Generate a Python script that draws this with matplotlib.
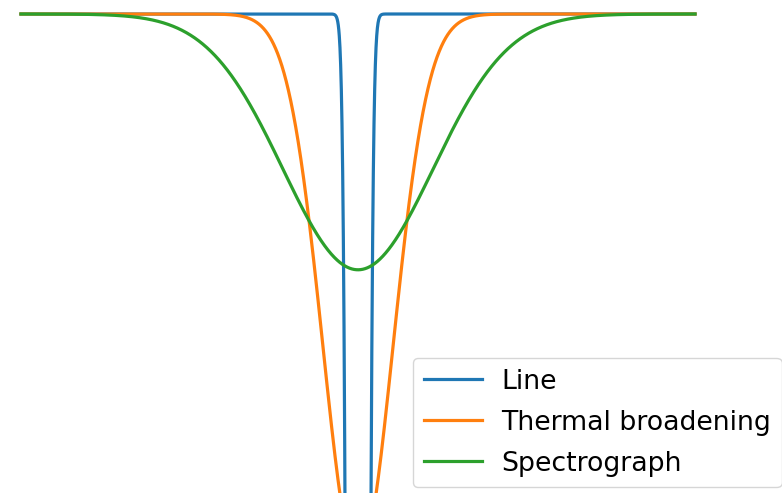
import numpy as np
import matplotlib
matplotlib.use("Agg")
import matplotlib.pyplot as plt

# profile parameters (continuum = 1)
labels = ["Line", "Thermal broadening", "Spectrograph"]
centers = [0.0, 0.0, 0.0]
depths = [18.8, 1.144, 0.534]
sigmas = [0.016, 0.104, 0.2226]

x = np.linspace(-1, 1, 4001)

fig = plt.figure(figsize=(7.82, 4.93), dpi=100)
ax = fig.add_axes([0, 0, 1, 1])

for lab, c, d, s in zip(labels, centers, depths, sigmas):
    flux = 1 - d * np.exp(-(x - c) ** 2 / (2 * s ** 2))
    ax.plot(x, flux, lw=2.3, label=lab)

# axes fill the figure; line ends at 21 and 695 px
px = 674 / 2
ax.set_xlim(-1 - 21 / px, 1 + 87 / px)
ax.set_ylim(0, 1 + 14 / 479)
ax.axis("off")

ax.legend(loc="upper left", bbox_to_anchor=(413 / 782, 1 - 358 / 493),
          bbox_transform=fig.transFigure, borderaxespad=0, fontsize=19.3,
          handlelength=2.17, handletextpad=0.72, labelspacing=0.56,
          borderpad=0.4)

fig.savefig("out.png", dpi=100)
